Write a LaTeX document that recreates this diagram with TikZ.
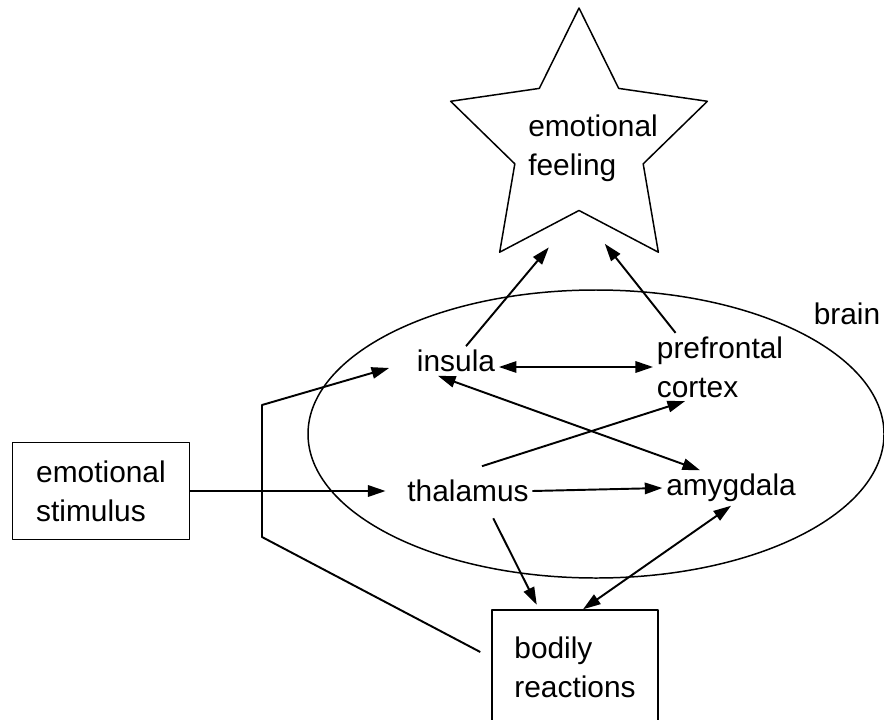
\documentclass[tikz,border=0pt]{standalone}
\usepackage{fontspec}
\setmainfont{Liberation Sans}
\usetikzlibrary{arrows.meta,shapes.geometric}

\tikzset{
  lbl/.style={inner sep=2pt,font=\fontsize{17}{22}\selectfont},
  box/.style={lbl,draw,line width=0.85pt,align=left},
  outline/.style={line width=0.85pt},
  tip/.style={Triangle[length=10pt,width=6.5pt]},
  arr/.style={line width=1.1pt,-{Triangle[length=10pt,width=6.5pt]}},
  dbl/.style={line width=1.1pt,{Triangle[length=10pt,width=6.5pt]}-{Triangle[length=10pt,width=6.5pt]}}
}

\begin{document}
\begin{tikzpicture}[x=0.02cm,y=-0.02cm,line join=round]
  \useasboundingbox (0,0) rectangle (884,719);

  % the brain, and the star for the feeling
  \draw[outline] (596,434) ellipse (288 and 144);
  \node[lbl] (brain) at (847,314) {brain};
  \node[star,star points=5,star point ratio=2,minimum size=5.4cm,inner sep=0pt,draw,outline] (feeling) at (579,143) {};
  \node[lbl,align=left] (feelingtxt) at (593,148) {emotional\\feeling};

  % regions inside the brain
  \node[lbl] (insula) at (456,361) {insula};
  \node[lbl,align=left] (cortex) at (720,367) {prefrontal\\cortex};
  \node[lbl] (thalamus) at (468,491) {thalamus};
  \node[lbl] (amygdala) at (731,488) {amygdala};

  % what comes in and what goes out
  \node[box,minimum width=3.54cm,minimum height=1.94cm] (stimulus) at (101,491) {emotional\\stimulus};
  \node[box,minimum width=3.32cm,minimum height=2.28cm] (bodily) at (575,667) {bodily\\reactions};

  % feedback from the body, round the left side
  \coordinate (fbbot) at (262,537);
  \coordinate (fbtop) at (262,405);
  \draw[arr,shorten >=0.5cm] ([xshift=-0.22cm,yshift=0.3cm]bodily.west) -- (fbbot) -- (fbtop) -- (insula.west);

  \draw[arr,shorten >=0.36cm] (stimulus.east) -- (thalamus.west);
  \draw[arr,shorten >=0.94cm] ([xshift=0.2cm]insula.north) -- (feeling.south);
  \draw[arr,shorten >=0.83cm] ([xshift=0.45cm]cortex.north west) -- (feeling.south);
  \draw[dbl] (cortex.west -| insula.east) -- (cortex.west);
  \draw[dbl] ([xshift=-0.36cm]insula.south) -- ([xshift=-0.62cm]amygdala.north);
  \draw[arr] ([xshift=0.28cm,yshift=0.2cm]thalamus.north) -- ([xshift=-0.7cm]cortex.south);
  \draw[arr] (thalamus.east) -- (amygdala.west);
  \draw[arr,shorten <=0.28cm,shorten >=0.1cm] ([xshift=0.38cm]thalamus.south) -- ([xshift=-0.72cm]bodily.north);
  \draw[dbl] (amygdala.south) -- ([xshift=0.16cm]bodily.north);
\end{tikzpicture}
\end{document}
